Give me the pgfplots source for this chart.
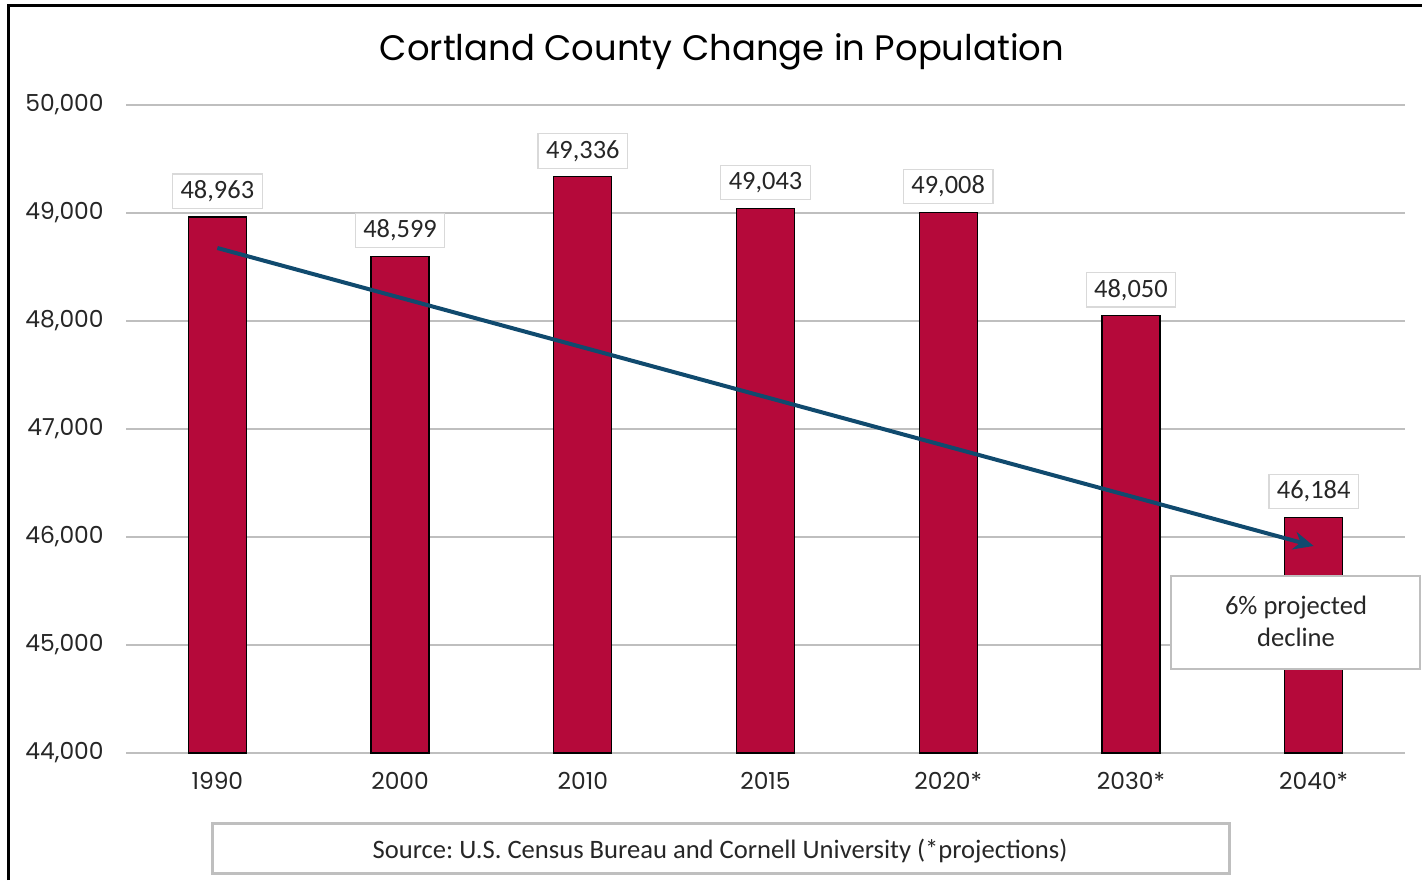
\documentclass[border=0pt]{standalone}
\usepackage{pgfplots}
\pgfplotsset{compat=1.18}
\usepackage{fontspec}
\setmainfont{Carlito}
\newfontfamily\poppins{Poppins}
\usetikzlibrary{arrows.meta}
\definecolor{barred}{RGB}{181,9,58}
\definecolor{arrowblue}{RGB}{16,74,110}
\definecolor{gridgray}{RGB}{191,191,191}
\definecolor{boxgray}{RGB}{217,217,217}
\definecolor{txt}{RGB}{38,38,38}
\frenchspacing
\begin{document}
\begin{tikzpicture}
\useasboundingbox (0,0) rectangle (711pt,-440pt);
\begin{axis}[
  at={(63pt,-376.5pt)}, anchor=south west,
  scale only axis, width=639.5pt, height=324pt,
  xmin=-0.5, xmax=6.5, ymin=44000, ymax=50000,
  ytick={44000,45000,...,50000},
  xtick={0,...,6},
  xticklabels={1990,2000,2010,2015,2020*,2030*,2040*},
  scaled y ticks=false,
  /pgf/number format/.cd, fixed, 1000 sep={,}, assume math mode=true, /pgfplots/.cd,
  ymajorgrids, grid style={gridgray, line width=1pt},
  axis line style={draw=none},
  major tick length=0pt,
  tick style={draw=none},
  ticklabel style={font=\poppins\fontsize{11.7}{13}\selectfont, text=txt},
  yticklabel style={anchor=east, inner sep=0pt, xshift=-11pt},
  xticklabel style={anchor=north, inner sep=0pt, yshift=-9.5pt},
  bar width=29pt,
]
\addplot[ybar, bar shift=0pt, fill=barred, draw=black, line width=0.6pt,
  nodes near coords={\pgfmathprintnumber[fixed,precision=0,1000 sep={,},assume math mode=true]{\pgfplotspointmeta}},
  nodes near coords style={anchor=south, yshift=4pt, draw=boxgray, line width=0.6pt, fill=white,
    font=\fontsize{13.2}{15}\selectfont, text=txt, inner xsep=4pt, inner ysep=3.5pt,
    text height=8.7pt, text depth=1.5pt}]
  coordinates {(0,48963)(1,48599)(2,49336)(3,49043)(4,49008)(5,48050)(6,46184)};
\addplot[arrowblue, line width=2pt, -{Stealth[length=10pt,width=9pt]}]
  coordinates {(0,48676)(6,45917)};
\end{axis}
\begin{scope}[x=0.5pt,y=-0.5pt]
\draw[black, line width=1.5pt] (8,880) -- (8,5) -- (1422,5);
\node[font=\poppins\fontsize{17.7}{20}\selectfont, text=black] at (722,52) {Cortland County Change in Population};
\draw[gridgray, line width=1pt, fill=white] (1171,576) rectangle (1420,669);
\node[align=center, font=\fontsize{13.3}{16}\selectfont, text=txt] at (1296,621) {6\% projected\\decline};
\draw[gridgray, line width=1.5pt] (212,823) rectangle (1229,873);
\node[font=\fontsize{13.3}{15}\selectfont, text=txt] at (720,851) {Source: U.S. Census Bureau and Cornell University (*projections)};
\end{scope}
\end{tikzpicture}
\end{document}
